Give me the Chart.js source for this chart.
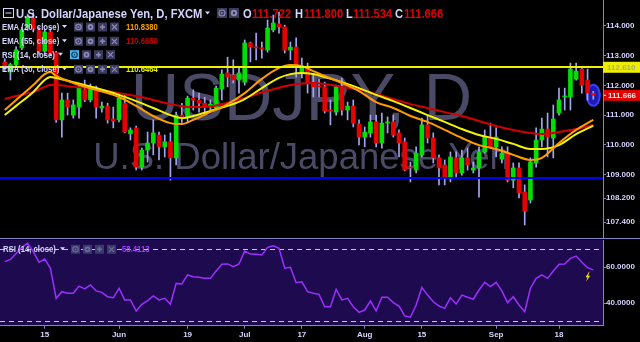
<!DOCTYPE html>
<html><head><meta charset="utf-8">
<script src="https://cdn.jsdelivr.net/npm/chart.js@4.4.1/dist/chart.umd.min.js"></script>
<style>
html,body{margin:0;padding:0;background:#000;width:640px;height:342px;overflow:hidden}
#c1{position:absolute;left:0;top:0}
#c2{position:absolute;left:0;top:238px}
</style></head><body>
<canvas id="c1" width="640" height="238"></canvas>
<canvas id="c2" width="640" height="104"></canvas>
<script>
// ---------- DATA ----------
const symbol = "USDJPY", interval = "D", broker = "FXCM", pairName = "U.S. Dollar/Japanese Yen";
const dates = [
"05-04","05-05","05-08","05-09","05-10","05-11","05-12","05-15","05-16","05-17","05-18","05-19","05-22","05-23","05-24","05-25","05-26","05-29","05-30","05-31",
"06-01","06-02","06-05","06-06","06-07","06-08","06-09","06-12","06-13","06-14","06-15","06-16","06-19","06-20","06-21","06-22","06-23","06-26","06-27","06-28","06-29","06-30",
"07-03","07-04","07-05","07-06","07-07","07-10","07-11","07-12","07-13","07-14","07-17","07-18","07-19","07-20","07-21","07-24","07-25","07-26","07-27","07-28","07-31",
"08-01","08-02","08-03","08-04","08-07","08-08","08-09","08-10","08-11","08-14","08-15","08-16","08-17","08-18","08-21","08-22","08-23","08-24","08-25","08-28","08-29","08-30","08-31",
"09-01","09-04","09-05","09-06","09-07","09-08","09-11","09-12","09-13","09-14","09-15","09-18","09-19","09-20","09-21","09-22","09-25","09-26"];
const open = [112.79,112.45,112.70,113.26,113.95,114.25,113.85,113.15,113.80,113.10,
110.84,111.51,111.00,111.27,111.85,111.51,111.91,111.24,111.30,110.87,
110.84,111.40,110.37,110.57,109.25,109.82,110.06,110.33,109.93,110.10,
109.56,111.00,110.94,111.57,111.50,111.40,111.30,111.24,111.88,112.42,
112.35,112.18,112.11,113.43,113.29,113.26,113.19,113.87,114.07,113.97,
113.19,113.29,112.45,112.59,112.08,111.98,111.95,111.17,111.10,111.91,
111.17,111.30,110.70,110.26,110.40,110.77,110.06,110.73,110.77,110.40,
110.10,109.25,109.15,109.66,110.67,110.23,109.56,109.32,108.92,109.56,
109.05,109.56,109.15,109.22,109.76,110.26,109.93,109.52,109.72,108.81,
109.22,108.41,108.14,109.39,110.16,110.53,110.23,111.07,111.61,111.61,
112.22,112.55,112.18,111.722];
const high = [112.90,112.75,113.30,113.95,114.40,114.45,113.95,113.90,113.90,113.15,
111.74,111.74,111.51,112.01,112.18,112.05,111.98,111.44,111.40,111.27,
111.74,111.68,110.57,110.63,109.89,110.43,110.84,110.43,110.33,110.40,
111.10,111.40,111.64,111.85,111.74,111.60,111.51,111.98,112.52,112.95,
112.86,112.62,113.53,113.46,113.76,113.46,114.20,114.37,114.47,114.03,
113.46,113.60,112.92,112.75,112.35,112.20,112.11,111.51,112.01,112.25,
111.44,111.51,110.84,110.60,111.00,111.00,111.07,110.94,111.00,110.50,
110.23,109.42,109.93,110.90,111.00,110.40,109.66,109.49,109.76,109.76,
109.82,109.89,109.42,109.93,110.50,110.73,110.57,109.93,109.93,109.39,
109.39,108.65,109.56,110.57,110.90,111.07,111.34,111.91,111.91,112.75,
112.75,112.59,112.55,111.800];
const low = [112.50,112.18,112.60,113.20,113.85,113.80,113.05,113.00,113.00,110.75,
110.26,111.00,110.90,110.90,111.45,111.44,110.90,111.10,110.73,110.57,
110.77,110.40,110.16,109.15,109.15,109.42,109.66,109.49,109.59,108.81,
109.32,110.75,110.77,111.17,111.10,111.00,111.17,111.17,111.51,111.95,
112.08,111.74,112.01,112.79,112.86,112.92,113.12,113.80,113.76,113.09,
112.86,112.28,112.25,111.74,111.61,111.61,111.07,110.67,111.00,111.00,
110.84,110.60,110.00,109.93,110.26,109.93,109.89,110.40,110.26,109.59,
109.12,108.75,109.05,109.59,110.06,109.39,108.65,108.65,108.75,108.92,
108.98,109.15,109.05,108.24,109.72,109.89,109.59,109.39,108.75,108.55,
108.21,107.30,108.04,109.25,109.93,109.59,109.56,111.00,111.17,111.17,
112.18,111.74,111.51,111.534];
const close = [112.62,112.70,113.20,113.87,114.30,113.90,113.15,113.80,113.10,110.84,
111.51,111.27,111.34,111.91,111.51,111.91,111.27,111.30,110.84,110.80,
111.57,110.43,110.50,109.25,109.82,110.06,110.40,109.93,110.10,109.56,
111.00,110.90,111.57,111.50,111.40,111.30,111.37,111.91,112.38,112.28,
112.18,112.42,113.43,113.29,113.26,113.23,113.93,114.10,113.97,113.19,
113.29,112.69,112.62,112.08,111.95,111.95,111.14,111.14,111.95,111.17,
111.30,110.73,110.26,110.43,110.77,110.06,110.73,110.77,110.33,110.06,
109.15,109.22,109.72,110.67,110.23,109.56,109.22,108.92,109.59,109.05,
109.56,109.32,109.22,109.76,110.26,109.93,110.26,109.72,108.81,109.22,
108.38,107.77,109.42,110.16,110.53,110.26,110.87,111.51,111.64,112.55,
112.48,112.01,111.74,111.666];
// EMA readings (at these dates)
const emaDates = ["05-04","05-08","05-11","05-15","05-16","05-17","05-22","05-26","06-01","06-06","06-09","06-14","06-16","06-20","06-23","06-28",
"07-03","07-06","07-11","07-13","07-17","07-19","07-21","07-26","07-31","08-03","08-08","08-11","08-16","08-21","08-24","08-29","09-01","09-06","09-11","09-13","09-18","09-21","09-26"];
const ema20 = [111.17,111.51,112.01,112.38,112.45,112.32,112.08,111.85,111.61,111.31,110.97,110.73,110.70,110.84,111.10,111.37,
111.74,112.22,112.59,112.69,112.65,112.48,112.32,112.08,111.81,111.44,111.24,110.97,110.77,110.50,110.23,109.99,109.86,109.66,109.49,109.56,110.06,110.50,110.838];
const ema30 = [111.00,111.31,111.78,112.18,112.28,112.25,112.11,111.91,111.68,111.47,111.24,111.00,110.90,110.97,111.14,111.31,
111.54,111.91,112.25,112.38,112.42,112.38,112.28,112.11,111.91,111.68,111.47,111.24,111.00,110.77,110.53,110.33,110.20,110.03,109.86,109.86,109.99,110.36,110.6464];
const ema55 = [111.54,111.64,111.78,111.95,112.01,112.01,111.95,111.88,111.74,111.64,111.51,111.37,111.30,111.27,111.29,111.42,
111.58,111.76,111.92,112.01,112.06,112.08,112.05,111.95,111.85,111.71,111.54,111.37,111.24,111.10,110.97,110.80,110.63,110.50,110.40,110.36,110.43,110.53,110.665];
const rsi = [63.0,64.2,67.5,70.9,73.2,68.5,62.6,64.4,59.3,42.6,
46.3,45.4,45.4,49.4,47.8,50.0,46.7,45.9,43.5,42.9,
48.2,41.7,41.7,35.6,39.3,41.3,43.9,41.7,42.6,39.3,
50.9,50.6,55.6,54.6,54.3,53.7,53.7,57.8,61.5,61.7,
60.2,61.7,68.9,67.2,67.1,66.7,70.9,71.8,70.4,59.3,
59.8,51.3,51.8,46.3,45.4,44.8,37.9,37.9,47.6,41.7,
42.6,37.9,34.8,36.1,41.1,35.6,43.2,43.2,40.2,38.3,
32.8,32.1,38.9,48.7,44.4,40.7,38.3,37.0,42.9,39.4,
44.4,43.2,42.1,47.2,51.5,49.1,51.5,46.7,40.2,43.5,
38.9,35.2,48.2,53.7,55.6,53.7,57.8,61.5,61.7,64.8,
66.1,62.6,59.6,58.4113];
const priceTicks = [107.4,108.2,109,110,111,112,113,114];
const rsiTicks = [40,60];
const rsiBands = [30,70];
const timeTicks = {"05-15":"15","06-01":"Jun","06-19":"19","07-03":"Jul","07-17":"17","08-01":"Aug","08-15":"15","09-01":"Sep","09-18":"18"};
const resistance = 112.610, support = 108.87;

// ---------- HELPERS ----------
const FAM = '"Liberation Sans", Arial, sans-serif';
function T(ctx, s, x, y, size, color, sx, weight) {
  ctx.save();
  ctx.font = (weight || 'bold') + ' ' + size + 'px ' + FAM;
  ctx.fillStyle = color; ctx.textAlign = 'left'; ctx.textBaseline = 'alphabetic';
  ctx.translate(x, y); ctx.scale(sx || 1, 1);
  ctx.fillText(s, 0, 0);
  const w = ctx.measureText(s).width * (sx || 1);
  ctx.restore(); return w;
}
function tri(ctx, x, y, c) { ctx.fillStyle = c; ctx.beginPath(); ctx.moveTo(x, y); ctx.lineTo(x + 5, y); ctx.lineTo(x + 2.5, y + 3); ctx.closePath(); ctx.fill(); }
function icon(ctx, x, y, s, kind, bg, fg) {
  ctx.save();
  ctx.fillStyle = bg; ctx.fillRect(x, y, s, s);
  ctx.strokeStyle = fg; ctx.fillStyle = fg; ctx.lineWidth = 1.2;
  const cx = x + s / 2, cy = y + s / 2;
  ctx.beginPath();
  if (kind === 'eye') { ctx.arc(cx, cy, s * 0.3, 0, Math.PI * 2); ctx.stroke(); ctx.beginPath(); ctx.arc(cx, cy, s * 0.1, 0, Math.PI * 2); ctx.fill(); }
  else if (kind === 'gear') { ctx.arc(cx, cy, s * 0.32, 0, Math.PI * 2); ctx.fill(); ctx.fillStyle = bg; ctx.beginPath(); ctx.arc(cx, cy, s * 0.12, 0, Math.PI * 2); ctx.fill(); }
  else if (kind === 'plus') { ctx.lineWidth = 1.6; ctx.moveTo(cx, y + 2); ctx.lineTo(cx, y + s - 2); ctx.moveTo(x + 2, cy); ctx.lineTo(x + s - 2, cy); ctx.stroke(); }
  else { ctx.moveTo(x + 2, y + 2); ctx.lineTo(x + s - 2, y + s - 2); ctx.moveTo(x + s - 2, y + 2); ctx.lineTo(x + 2, y + s - 2); ctx.stroke(); }
  ctx.restore();
}
const last = dates.length - 1;
const idx = d => dates.indexOf(d);
const emaPts = arr => emaDates.map((d, j) => ({x: idx(d), y: arr[j]}));
const LAV = '#d4d4ff', AX = '#8484cc';
const xRange = {min: -0.826, max: 104.70};

// ---------- MAIN PRICE CHART ----------
const mainDeco = {
  id: 'mainDeco',
  beforeDatasetsDraw(chart) {
    const {ctx, chartArea: a, scales: {x, y}} = chart;
    ctx.save();
    ctx.fillStyle = '#4a4a66'; ctx.textAlign = 'center'; ctx.textBaseline = 'alphabetic';
    const cx = (a.left + a.right) / 2;
    ctx.font = '67px ' + FAM; ctx.fillText(symbol + ', ' + interval, cx, 120);
    ctx.font = '36.5px ' + FAM; ctx.fillText(pairName, cx, 169);
    ctx.beginPath();
    ctx.ellipse(x.getPixelForValue(last), y.getPixelForValue(close[last]), 6.5, 10.5, 0, 0, Math.PI * 2);
    ctx.fillStyle = '#1c1cb0'; ctx.fill(); ctx.lineWidth = 2; ctx.strokeStyle = '#3c3cff'; ctx.stroke();
    ctx.restore();
  },
  afterDatasetsDraw(chart) {
    const {ctx, chartArea: a, scales: {y}} = chart;
    ctx.save(); ctx.lineWidth = 2;
    let yy = Math.round(y.getPixelForValue(resistance));
    ctx.strokeStyle = '#f0f000'; ctx.beginPath(); ctx.moveTo(a.left, yy); ctx.lineTo(a.right, yy); ctx.stroke();
    yy = Math.round(y.getPixelForValue(support));
    ctx.strokeStyle = '#0000ff'; ctx.beginPath(); ctx.moveTo(a.left, yy); ctx.lineTo(a.right, yy); ctx.stroke();
    ctx.restore();
  },
  afterDraw(chart) {
    const {ctx, chartArea: a, scales: {y}} = chart;
    ctx.save();
    // price boxes on axis
    let yy = y.getPixelForValue(resistance);
    ctx.fillStyle = '#eeee00'; ctx.fillRect(a.right, yy - 5.5, 37, 11);
    T(ctx, resistance.toFixed(3), a.right + 4, yy + 3, 8, '#a9a97a');
    yy = y.getPixelForValue(close[last]);
    ctx.fillStyle = '#e00000'; ctx.fillRect(a.right + 1, yy - 5.5, 36, 11);
    ctx.fillStyle = '#ffffff'; ctx.fillRect(a.right + 1, yy - 0.5, 2, 1);
    T(ctx, close[last].toFixed(3), a.right + 5, yy + 3, 8, '#ffe6e6');
    // legend row 1
    ctx.strokeStyle = LAV; ctx.lineWidth = 1; ctx.strokeRect(3.5, 8.5, 10, 9);
    ctx.beginPath(); ctx.moveTo(5.5, 13); ctx.lineTo(11.5, 13); ctx.stroke();
    T(ctx, pairName + ', ' + interval + ', ' + broker, 16, 17.5, 12, LAV, 0.935);
    tri(ctx, 205, 11.5, LAV);
    icon(ctx, 217, 8, 10, 'eye', '#3a3a5c', '#8a8ab4');
    icon(ctx, 229, 8, 10, 'gear', '#3a3a5c', '#8a8ab4');
    const red = '#e00000';
    const ohlc = [['O', open[last], 243, 252], ['H', high[last], 295, 304], ['L', low[last], 346, 353], ['C', close[last], 395, 404]];
    ohlc.forEach(([k, v, x1, x2]) => { T(ctx, k, x1, 17.5, 12, LAV, 0.93); T(ctx, v.toFixed(3), x2, 17.5, 12, red, 0.93); });
    // indicator rows
    const rows = [
      ['EMA (20, close)', 30, ema20[ema20.length - 1].toFixed(4), '#ff9c00', false],
      ['EMA (55, close)', 44.3, ema55[ema55.length - 1].toFixed(4), '#c80000', false],
      ['RSI (14, close)', 57.7, '', '', true],
      ['EMA (30, close)', 72.3, ema30[ema30.length - 1].toFixed(4), '#e8e800', false]];
    rows.forEach(([lab, b, val, col, isRsi]) => {
      T(ctx, lab, 2, b, 9, LAV, 0.86);
      const kinds = ['eye', 'gear', 'plus', 'x'];
      if (isRsi) {
        tri(ctx, 58, b - 5, LAV);
        kinds.forEach((k, j) => icon(ctx, 70 + j * 12, b - 7.5, 9, k, j === 0 ? '#46b8f0' : '#3a3a5c', j === 0 ? '#0e3c66' : '#8a8ab4'));
      } else {
        tri(ctx, 62, b - 5, LAV);
        kinds.forEach((k, j) => icon(ctx, 74 + j * 12, b - 7.5, 9, k, '#3a3a5c', '#8a8ab4'));
        T(ctx, val, 126, b, 9, col, 0.86);
      }
    });
    ctx.restore();
  }
};

new Chart(document.getElementById('c1'), {
  type: 'bar',
  data: {datasets: [
    {type: 'line', label: 'EMA (20, close)', data: emaPts(ema20), borderColor: '#ff9c00', borderWidth: 2, pointRadius: 0, cubicInterpolationMode: 'monotone', order: 0},
    {type: 'line', label: 'EMA (30, close)', data: emaPts(ema30), borderColor: '#f4f400', borderWidth: 2, pointRadius: 0, cubicInterpolationMode: 'monotone', order: 0},
    {type: 'line', label: 'EMA (55, close)', data: emaPts(ema55), borderColor: '#d40000', borderWidth: 2, pointRadius: 0, cubicInterpolationMode: 'monotone', order: 0},
    {label: 'body', data: dates.map((d, k) => ({x: k, y: [open[k], close[k]]})),
     backgroundColor: dates.map((d, k) => close[k] >= open[k] ? '#00e000' : '#e60000'),
     barThickness: 4, grouped: false, minBarLength: 1, order: 1},
    {label: 'wick', data: dates.map((d, k) => ({x: k, y: [low[k], high[k]]})),
     backgroundColor: '#a4a4f4', barThickness: 1, grouped: false, order: 2}
  ]},
  options: {
    responsive: false, animation: false, events: [],
    layout: {padding: 0},
    plugins: {legend: {display: false}, tooltip: {enabled: false}},
    scales: {
      x: {type: 'linear', display: false, offset: false, min: xRange.min, max: xRange.max},
      y: {position: 'right', min: 106.862, max: 114.875,
          afterBuildTicks: s => { s.ticks = priceTicks.map(v => ({value: v})); },
          ticks: {autoSkip: false, padding: 0, color: LAV, font: {family: FAM, size: 8, weight: 'bold'}, callback: v => Number(v).toFixed(3)},
          grid: {display: true, drawOnChartArea: false, tickLength: 3, color: AX},
          border: {display: true, color: AX, width: 1},
          afterFit: s => { s.width = 37; s.paddingTop = 0; s.paddingBottom = 0; }}
    }
  },
  plugins: [mainDeco]
});

// ---------- RSI CHART ----------
const rsiDeco = {
  id: 'rsiDeco',
  beforeDraw(chart) {
    const {ctx, chartArea: a} = chart;
    ctx.save();
    ctx.fillStyle = '#1e0a4e'; ctx.fillRect(a.left, a.top, a.right - a.left, a.bottom - a.top);
    ctx.strokeStyle = AX; ctx.lineWidth = 1; ctx.beginPath(); ctx.moveTo(0, 0.5); ctx.lineTo(chart.width, 0.5); ctx.stroke();
    ctx.restore();
  },
  beforeDatasetsDraw(chart) {
    const {ctx, chartArea: a, scales: {y}} = chart;
    ctx.save(); ctx.strokeStyle = '#c4c4f0'; ctx.lineWidth = 1; ctx.setLineDash([5, 4]);
    rsiBands.forEach(v => { const yy = Math.round(y.getPixelForValue(v)) + 0.5; ctx.beginPath(); ctx.moveTo(a.left, yy); ctx.lineTo(a.right, yy); ctx.stroke(); });
    ctx.restore();
  },
  afterDraw(chart) {
    const {ctx, scales: {x, y}} = chart;
    ctx.save();
    const b = 14.3;
    T(ctx, 'RSI (14, close)', 3, b, 9, LAV, 0.86);
    tri(ctx, 60, b - 5, LAV);
    ['eye', 'gear', 'plus', 'x'].forEach((k, j) => icon(ctx, 71 + j * 12, b - 7.5, 9, k, '#3a3a6a', '#6a6aa0'));
    T(ctx, rsi[last].toFixed(4), 122, b, 9, '#a040ff', 0.86);
    // lightning marker
    const cx = x.getPixelForValue(last - 1), cy = y.getPixelForValue(54.6);
    ctx.fillStyle = '#ffe800'; ctx.beginPath();
    ctx.moveTo(cx + 1.5, cy - 5); ctx.lineTo(cx - 2, cy + 0.5); ctx.lineTo(cx, cy + 0.5); ctx.lineTo(cx - 1.5, cy + 5);
    ctx.lineTo(cx + 2.5, cy - 1); ctx.lineTo(cx + 0.5, cy - 1); ctx.lineTo(cx + 2, cy - 5); ctx.closePath(); ctx.fill();
    ctx.restore();
  }
};

new Chart(document.getElementById('c2'), {
  type: 'line',
  data: {datasets: [{label: 'RSI (14, close)', data: dates.map((d, k) => ({x: k, y: rsi[k]})), borderColor: '#9b30ff', borderWidth: 1.5, pointRadius: 0, tension: 0}]},
  options: {
    responsive: false, animation: false, events: [],
    layout: {padding: {top: 2, left: 0, right: 0, bottom: 0}},
    plugins: {legend: {display: false}, tooltip: {enabled: false}},
    scales: {
      x: {type: 'linear', offset: false, min: xRange.min, max: xRange.max,
          afterBuildTicks: s => { s.ticks = Object.keys(timeTicks).map(d => ({value: idx(d)})); },
          ticks: {autoSkip: false, maxRotation: 0, padding: 1, color: LAV, font: {family: FAM, size: 8, weight: 'bold'}, callback: v => timeTicks[dates[v]] || ''},
          grid: {display: true, drawOnChartArea: false, tickLength: 3, color: AX},
          border: {display: true, color: AX, width: 1},
          afterFit: s => { s.height = 16.3; s.paddingLeft = 0; s.paddingRight = 0; }},
      y: {position: 'right', min: 27.39, max: 75,
          afterBuildTicks: s => { s.ticks = rsiTicks.map(v => ({value: v})); },
          ticks: {autoSkip: false, padding: 0, color: LAV, font: {family: FAM, size: 8, weight: 'bold'}, callback: v => Number(v).toFixed(4)},
          grid: {display: true, drawOnChartArea: false, tickLength: 3, color: AX},
          border: {display: true, color: AX, width: 1},
          afterFit: s => { s.width = 37; s.paddingTop = 0; s.paddingBottom = 0; }}
    }
  },
  plugins: [rsiDeco]
});
</script>
</body></html>
